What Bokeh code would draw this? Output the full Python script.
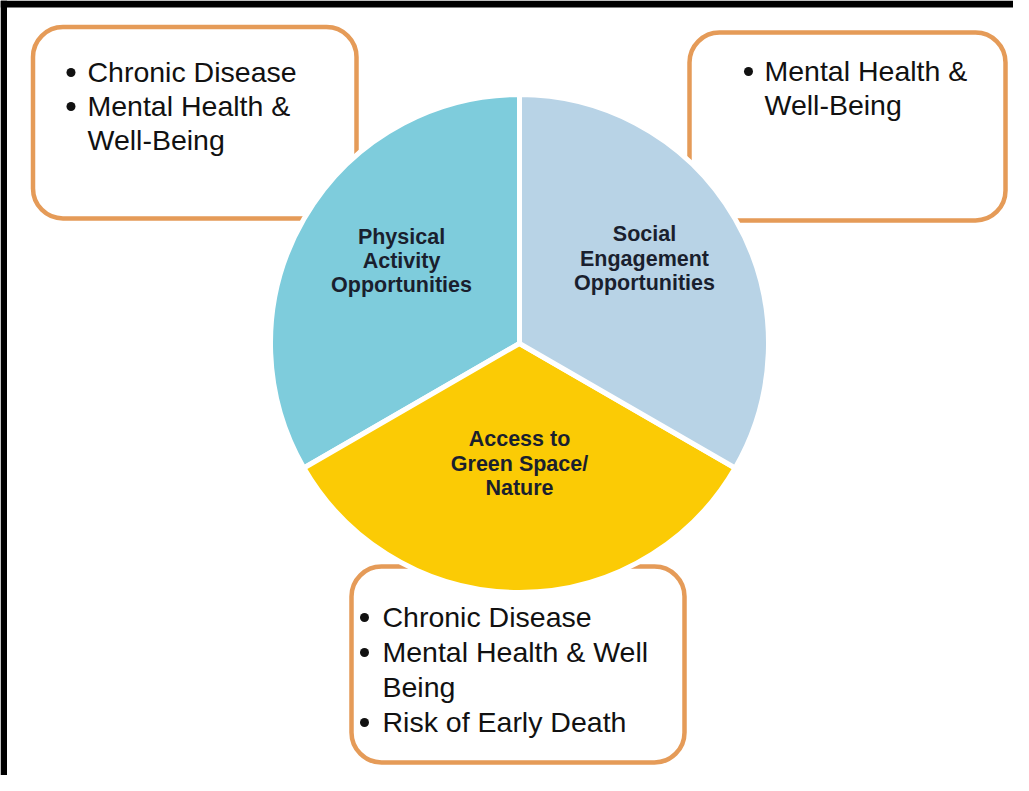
import math
from bokeh.plotting import figure
from bokeh.models import Range1d, ColumnDataSource
from bokeh.core.properties import value
from bokeh.embed import file_html
from bokeh.resources import INLINE

# ---------------- data ----------------
categories = ["Physical Activity Opportunities",
              "Access to Green Space/ Nature",
              "Social Engagement Opportunities"]
label_lines = [["Physical", "Activity", "Opportunities"],
               ["Access to", "Green Space/", "Nature"],
               ["Social", "Engagement", "Opportunities"]]
shares = [1, 1, 1]
wedge_colors = ["#7ECCDC", "#FBCB05", "#B8D3E6"]

# outcomes per box: each item is a list of wrapped lines
physical_outcomes = [["Chronic Disease"], ["Mental Health &", "Well-Being"]]
social_outcomes = [["Mental Health &", "Well-Being"]]
green_outcomes = [["Chronic Disease"], ["Mental Health & Well", "Being"],
                  ["Risk of Early Death"]]

# ---------------- layout (page pixels) ----------------
W, H = 1013, 775
def X(px):
    return px - 8
def Y(py):
    return 783 - py

FONT = value("Liberation Sans")
BOX_LINE = "#E59B58"
BOX_TEXT_SHIFT = 9.5     # renderer baseline correction
LABEL_TEXT_SHIFT = 8.5

p = figure(width=W, height=H, x_range=Range1d(0, W), y_range=Range1d(0, H),
           output_backend="svg", toolbar_location=None,
           x_axis_type=None, y_axis_type=None, min_border=0)
p.outline_line_color = None
p.background_fill_color = "white"
p.border_fill_color = "white"

# black frame (top and left edges)
p.quad(left=[X(8), X(8)], right=[X(1021), X(14.5)],
       top=[Y(8), Y(8)], bottom=[Y(15), Y(791)],
       fill_color="black", line_color=None)

# boxes: (left, top, right, bottom, bullet_x, text_x, first_baseline, line_step, items)
boxes = [
    (40.5, 34.5, 364, 226, 78.5, 95, 89, 34, physical_outcomes),
    (697, 40, 1013, 228, 756, 772, 88, 34, social_outcomes),
    (359, 574, 692, 770, 372, 390, 634, 35, green_outcomes),
]
for (l, t, r, b, bx, tx, base, step, items) in boxes:
    p.quad(left=[X(l)], right=[X(r)], top=[Y(t)], bottom=[Y(b)],
           fill_color="white", line_color=BOX_LINE, line_width=4.5,
           border_radius=30)
    xs, ys, txt, bxs, bys = [], [], [], [], []
    k = 0
    for item in items:
        for j, line in enumerate(item):
            yb = base + k * step
            xs.append(X(tx)); ys.append(Y(yb - BOX_TEXT_SHIFT)); txt.append(line)
            if j == 0:
                bxs.append(X(bx)); bys.append(Y(yb - 9))
            k += 1
    p.text(x=xs, y=ys, text=txt, text_font=FONT, text_font_size="28.5px",
           text_color="#111111", text_align="left", text_baseline="alphabetic")
    p.scatter(x=bxs, y=bys, size=9, marker="circle",
              fill_color="#111111", line_color=None)

# pie
cx, cy, R = X(527), Y(351), 249
total = sum(shares)
starts, ends = [], []
a = 90.0
for s in shares:
    starts.append(math.radians(a))
    a += 360.0 * s / total
    ends.append(math.radians(a))
src = ColumnDataSource(dict(cat=categories, start=starts, end=ends,
                            color=wedge_colors))
p.wedge(x=cx, y=cy, radius=R, start_angle="start", end_angle="end",
        fill_color="color", line_color="white",
        line_width=5, source=src)

# wedge labels: (center_x, first baseline, step)
label_pos = [(409, 253, 24), (527, 455, 24.5), (652, 250, 24.5)]
lx, ly, lt = [], [], []
for lines, (px, base, step) in zip(label_lines, label_pos):
    for i, line in enumerate(lines):
        lx.append(X(px)); ly.append(Y(base + i * step - LABEL_TEXT_SHIFT)); lt.append(line)
p.text(x=lx, y=ly, text=lt, text_font=FONT, text_font_size="21.5px",
       text_font_style="bold", text_color="#1A1F2E",
       text_align="center", text_baseline="alphabetic")

open("out.html", "w").write(file_html(p, INLINE))
